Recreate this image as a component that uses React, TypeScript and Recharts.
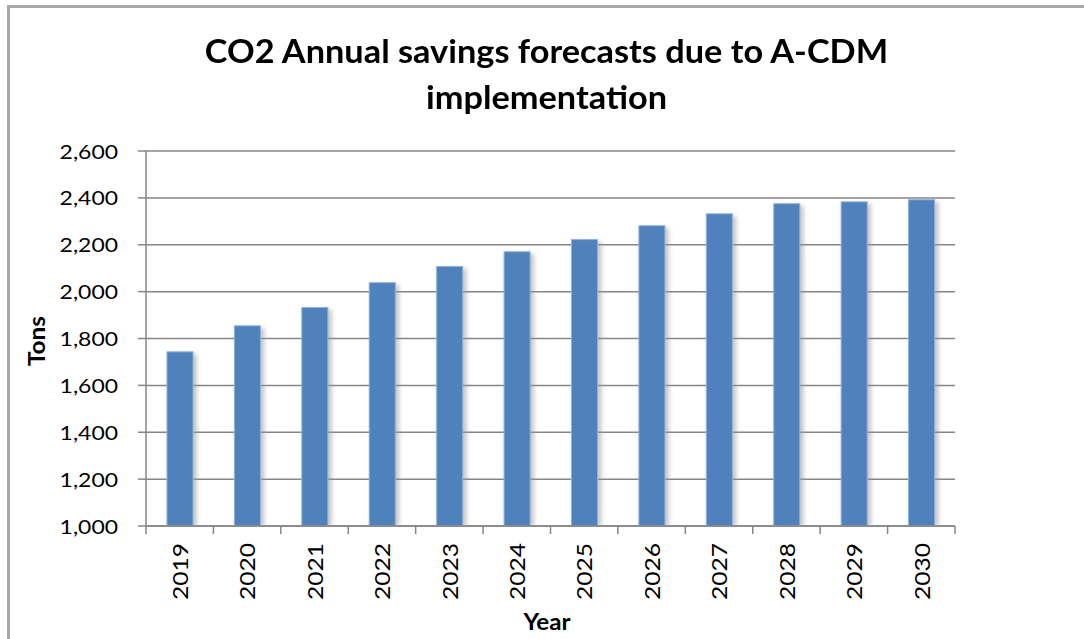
import { Bar, BarChart, CartesianGrid, XAxis, YAxis } from 'recharts'

// chart values
const years = ['2019', '2020', '2021', '2022', '2023', '2024', '2025', '2026', '2027', '2028', '2029', '2030']
const savings = [1743, 1854, 1932, 2038, 2107, 2170, 2222, 2281, 2332, 2375, 2383, 2392]
const yTicks = [1000, 1200, 1400, 1600, 1800, 2000, 2200, 2400, 2600]

const data = years.map((year, i) => ({ year, tons: savings[i] }))

// layout
const W = 1084
const H = 639
const PLOT_LEFT = 146
const PLOT_RIGHT = 955
const PLOT_TOP = 151
const PLOT_BOTTOM = 526
const STEP = (PLOT_RIGHT - PLOT_LEFT) / years.length
const FONT = 'Lato, "Noto Sans", sans-serif'
const AXIS = '#868686'

const fmt = (v: number) => v.toLocaleString('en-US')

const ShadowBar = (props: any) => {
	const { x, y, width, height, index } = props
	return (
		<g>
			{index === 0 && (
				<defs>
					<filter id='barShadow' x='-50%' y='-10%' width='200%' height='120%'>
						<feGaussianBlur stdDeviation='2' />
					</filter>
				</defs>
			)}
			<rect x={x + 2} y={y + 2} width={width + 2} height={height - 2} fill='#9a9a9a' opacity={0.55} filter='url(#barShadow)' />
			<rect x={x} y={y} width={width} height={height} fill='#4F81BD' stroke='#8fb0d8' strokeWidth={1} />
		</g>
	)
}

// y labels, a little wider than Lato to match the original face
const ValueTick = (props: any) => {
	const { x, y, payload } = props
	return (
		<text
			transform={`translate(${x}, ${y}) scale(1.24, 1)`}
			textAnchor='end'
			dominantBaseline='central'
			fontFamily={FONT}
			fontSize={18.5}
			fill='#000'
		>
			{fmt(payload.value)}
		</text>
	)
}

// year labels turned upright, plus Excel-style tick marks between categories
const YearTick = (props: any) => {
	const { x, y, payload, index } = props
	const left = x - STEP / 2
	return (
		<g>
			<line x1={left} y1={y - 8} x2={left} y2={y} stroke={AXIS} strokeWidth={1.5} />
			{index === years.length - 1 && <line x1={x + STEP / 2} y1={y - 8} x2={x + STEP / 2} y2={y} stroke={AXIS} strokeWidth={1.5} />}
			<text
				transform={`translate(${x}, ${y + 9}) rotate(-90) scale(1.17, 1)`}
				textAnchor='end'
				dominantBaseline='central'
				fontFamily={FONT}
				fontSize={21}
				fill='#000'
			>
				{payload.value}
			</text>
		</g>
	)
}

export default function App() {
	return (
		<div style={{ position: 'absolute', left: 0, top: 0, width: W, height: H, overflow: 'hidden', background: '#fff' }}>
			<div
				style={{
					position: 'absolute',
					left: 7,
					top: 5,
					width: W + 20,
					height: H + 20,
					border: '3px solid #a8a8a8',
				}}
			/>
			<div
				style={{
					position: 'absolute',
					left: 0,
					top: 27,
					width: 1093,
					textAlign: 'center',
					fontFamily: FONT,
					fontWeight: 700,
					fontSize: 33,
					lineHeight: '46px',
					color: '#000',
					transform: 'scaleX(1.04)',
				}}
			>
				CO2 Annual savings forecasts due to A-CDM
				<br />
				implementation
			</div>
			<div
				style={{
					position: 'absolute',
					left: 36,
					top: 341,
					transform: 'translate(-50%, -50%) rotate(-90deg) scaleX(1.06)',
					fontFamily: FONT,
					fontWeight: 700,
					fontSize: 23,
					color: '#000',
				}}
			>
				Tons
			</div>
			<div
				style={{
					position: 'absolute',
					left: 547,
					top: 621,
					transform: 'translate(-50%, -50%) scaleX(1.1)',
					fontFamily: FONT,
					fontWeight: 700,
					fontSize: 22,
					color: '#000',
				}}
			>
				Year
			</div>
			<div style={{ position: 'absolute', left: 0, top: 0 }}>
				<BarChart
					width={W}
					height={H}
					data={data}
					barSize={26}
					margin={{ top: PLOT_TOP, right: W - PLOT_RIGHT, left: PLOT_LEFT - 100, bottom: H - PLOT_BOTTOM - 60 }}
				>
					<CartesianGrid vertical={false} stroke={AXIS} strokeWidth={1.5} />
					<XAxis
						dataKey='year'
						height={60}
						axisLine={{ stroke: AXIS, strokeWidth: 1.5 }}
						tickLine={false}
						interval={0}
						tick={<YearTick />}
					/>
					<YAxis
						width={100}
						domain={[1000, 2600]}
						ticks={yTicks}
						allowDataOverflow
						axisLine={{ stroke: AXIS, strokeWidth: 1.5 }}
						tickLine={{ stroke: AXIS, strokeWidth: 1.5 }}
						tickSize={8}
						tickMargin={20}
						tick={<ValueTick />}
					/>
					<Bar dataKey='tons' isAnimationActive={false} shape={<ShadowBar />} />
				</BarChart>
			</div>
		</div>
	)
}
